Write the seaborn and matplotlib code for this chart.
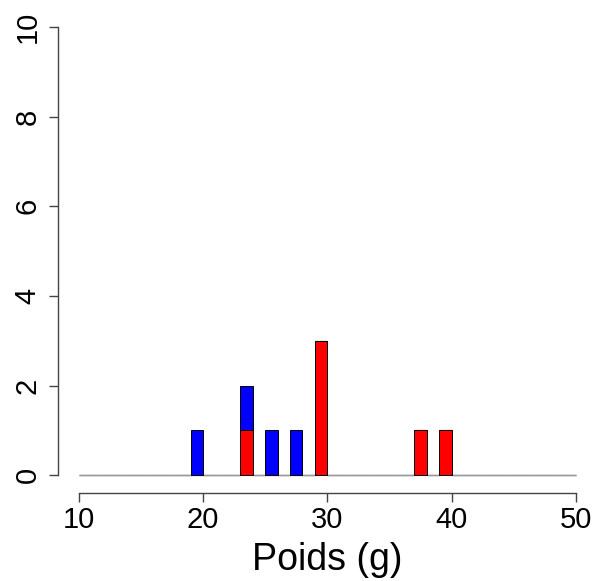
import matplotlib
matplotlib.use("Agg")
import matplotlib.pyplot as plt
import seaborn as sns
import pandas as pd

# --- data ---
poids_bleu = [19.5, 23.5, 25.5, 27.5]
poids_rouge = [23.5, 29.5, 29.5, 29.5, 37.5, 39.5]
groupes = ["Bleu", "Rouge"]
couleurs = {"Bleu": "#0000FF", "Rouge": "#FF0000"}
x_ticks = [10, 20, 30, 40, 50]
y_ticks = [0, 2, 4, 6, 8, 10]
x_label = "Poids (g)"
bin_range = (10, 50)
bin_width = 1

df = pd.DataFrame({
    "poids": poids_bleu + poids_rouge,
    "groupe": ["Bleu"] * len(poids_bleu) + ["Rouge"] * len(poids_rouge),
})

sns.set_style("white")
plt.rcParams["font.family"] = ["Liberation Sans", "DejaVu Sans"]
plt.rcParams["text.color"] = "black"
plt.rcParams["axes.labelcolor"] = "black"

fig = plt.figure(figsize=(5.97, 5.81), dpi=100)
ax = fig.add_axes([0.1318, 0.1819, 0.833, 0.7716])

sns.histplot(data=df, x="poids", hue="groupe", hue_order=groupes,
             palette=couleurs, multiple="stack", binwidth=bin_width,
             binrange=bin_range, alpha=1, edgecolor="black", linewidth=0.7,
             legend=False, ax=ax)

# empty bins show as a grey baseline (like R's hist)
for p in ax.patches:
    p.set_clip_on(False)
    if p.get_height() == 0:
        p.set_edgecolor("#999999")
        p.set_linewidth(1.0)
        p.set_zorder(1)
    else:
        p.set_zorder(3)

ax.set_xlim(*bin_range)
ax.set_ylim(y_ticks[0], y_ticks[-1])
ax.set_xticks(x_ticks)
ax.set_yticks(y_ticks)
ax.set_xlabel(x_label, fontsize=27, labelpad=6, color="black")
ax.set_ylabel("")

for side in ["top", "right"]:
    ax.spines[side].set_visible(False)
ax.spines["left"].set_position(("outward", 15))
ax.spines["bottom"].set_position(("outward", 13))
for side in ["left", "bottom"]:
    ax.spines[side].set_color("#444444")
    ax.spines[side].set_linewidth(1.0)

ax.tick_params(axis="both", which="major", length=6.8, width=1.0,
               color="#444444", labelsize=21, labelcolor="black",
               bottom=True, left=True)
ax.tick_params(axis="x", pad=2)
ax.tick_params(axis="y", pad=5)
for lab in ax.get_yticklabels():
    lab.set_rotation(90)
    lab.set_va("center")

fig.savefig("out.png", dpi=100)
